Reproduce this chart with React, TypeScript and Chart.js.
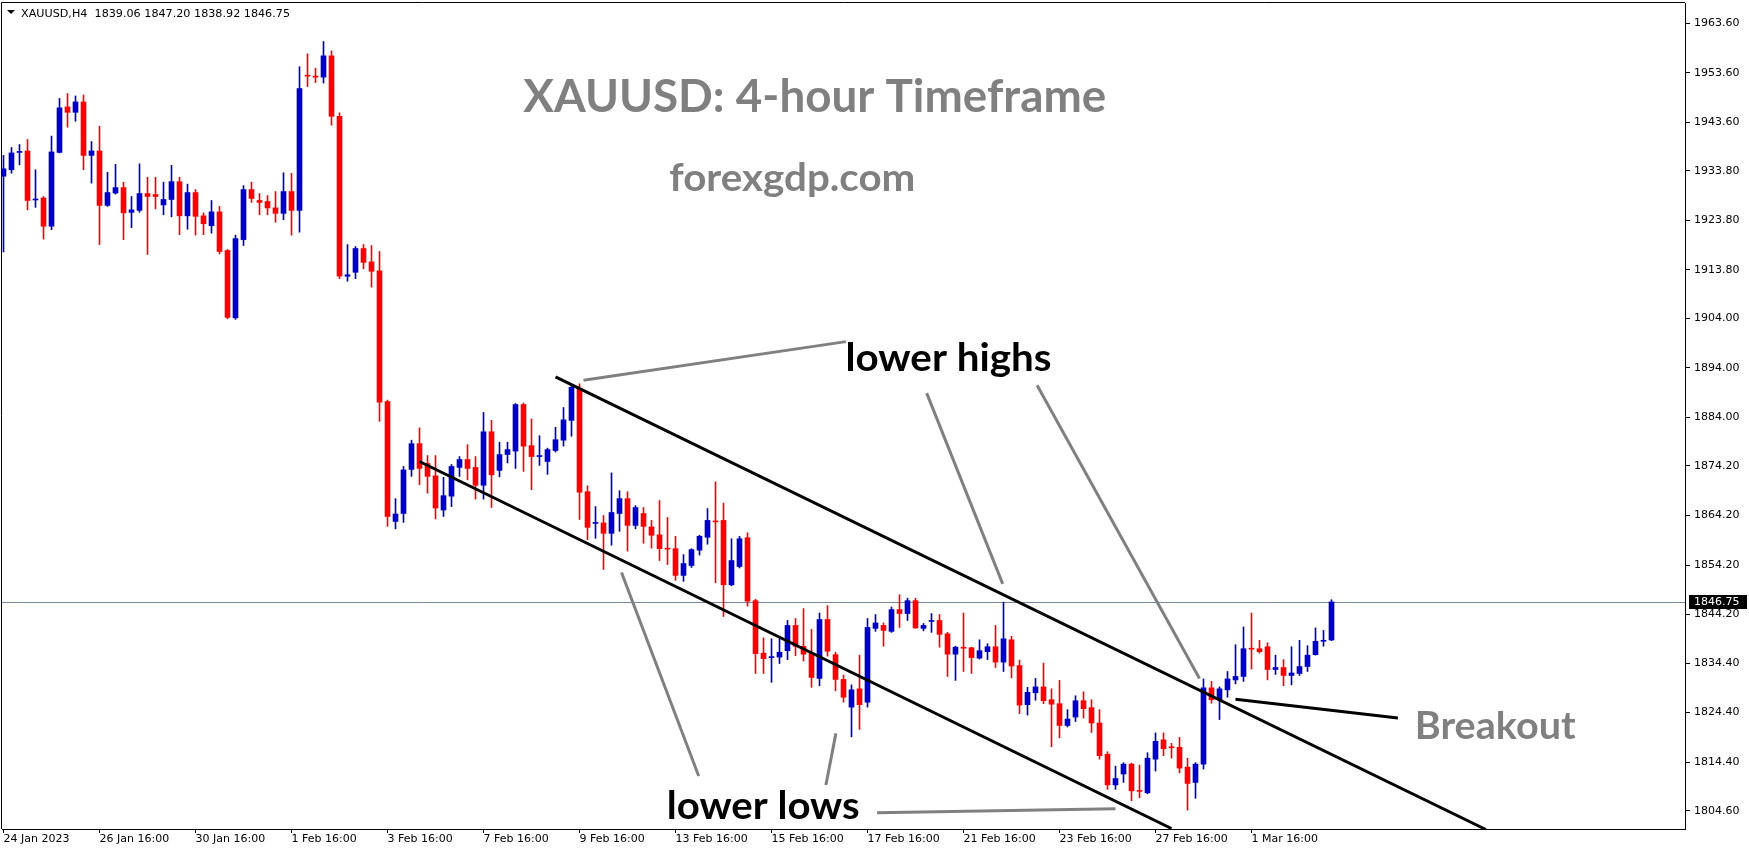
import React, { useEffect, useRef } from "react";
import { Chart, registerables } from "chart.js";

Chart.register(...registerables);

// ---------------- DATA ----------------
const symbol = "XAUUSD";
const timeframe = "H4";

const opens = [
  1932.7, 1934.0, 1937.5, 1937.8, 1927.9, 1928.3, 1922.6, 1937.5, 1946.7, 1945.6,
  1947.7, 1936.9, 1937.8, 1926.8, 1929.3, 1930.4, 1925.4, 1925.8, 1929.2, 1929.0,
  1926.9, 1928.0, 1931.6, 1924.7, 1929.4, 1924.7, 1922.7, 1925.5, 1917.7, 1904.1,
  1919.9, 1930.0, 1927.8, 1927.6, 1926.3, 1925.2, 1929.6, 1925.8, 1953.1, 1952.9,
  1952.7, 1957.0, 1944.8, 1912.5, 1913.3, 1918.1, 1915.4, 1913.6, 1887.2, 1863.0,
  1864.6, 1873.5, 1878.7, 1874.7, 1872.2, 1865.3, 1868.1, 1873.9, 1875.5, 1873.9,
  1870.3, 1881.1, 1873.3, 1876.5, 1877.2, 1886.6, 1878.3, 1876.1, 1875.1, 1877.3,
  1879.4, 1883.4, 1889.9, 1869.0, 1862.6, 1862.7, 1860.6, 1864.6, 1867.6, 1862.2,
  1864.6, 1861.9, 1860.3, 1857.6, 1857.5, 1852.1, 1854.1, 1857.2, 1859.8, 1863.1,
  1863.2, 1850.2, 1853.9, 1859.7, 1847.0, 1836.4, 1835.5, 1835.6, 1836.9, 1842.0,
  1837.8, 1836.3, 1831.3, 1843.2, 1836.1, 1831.1, 1825.5, 1829.2, 1826.5, 1841.4,
  1842.0, 1840.8, 1845.2, 1844.4, 1847.0, 1841.4, 1842.8, 1843.0, 1840.3, 1836.2,
  1837.6, 1837.5, 1835.4, 1836.7, 1837.7, 1834.6, 1839.1, 1833.9, 1826.0, 1828.4,
  1829.6, 1827.0, 1826.2, 1821.8, 1823.5, 1826.8, 1825.4, 1822.3, 1816.0, 1809.8,
  1812.0, 1814.0, 1808.7, 1808.2, 1815.0, 1818.9, 1817.5, 1817.4, 1813.4, 1810.3,
  1814.0, 1829.4, 1827.0, 1829.0, 1831.0, 1831.7, 1837.4, 1837.3, 1837.7, 1833.1,
  1833.5, 1831.9, 1832.3, 1833.7, 1836.1, 1838.8, 1839.06,
];
const highs = [
  1936.9, 1938.5, 1939.1, 1940.1, 1934.0, 1928.6, 1940.8, 1948.4, 1949.4, 1948.9,
  1949.1, 1939.7, 1942.8, 1933.5, 1935.1, 1931.5, 1928.6, 1935.2, 1932.5, 1932.5,
  1931.5, 1934.9, 1932.5, 1931.1, 1930.0, 1925.3, 1927.8, 1926.6, 1917.9, 1920.8,
  1930.8, 1931.5, 1929.2, 1928.8, 1929.6, 1933.4, 1933.3, 1954.8, 1957.4, 1954.5,
  1959.9, 1958.0, 1945.5, 1918.9, 1918.5, 1918.9, 1918.7, 1917.5, 1887.5, 1867.6,
  1874.1, 1879.4, 1881.9, 1876.3, 1876.3, 1871.9, 1874.5, 1876.1, 1878.5, 1876.1,
  1885.0, 1883.4, 1879.0, 1879.0, 1886.8, 1886.9, 1883.7, 1880.3, 1877.8, 1882.0,
  1886.0, 1890.3, 1890.8, 1870.2, 1866.0, 1864.2, 1872.8, 1869.2, 1869.0, 1866.2,
  1865.8, 1863.2, 1867.2, 1863.8, 1860.0, 1856.3, 1857.5, 1860.2, 1865.6, 1871.0,
  1866.7, 1859.5, 1860.0, 1860.7, 1847.3, 1839.5, 1839.3, 1839.3, 1843.0, 1843.4,
  1845.4, 1841.2, 1844.5, 1846.0, 1836.6, 1832.0, 1830.0, 1836.0, 1843.4, 1844.2,
  1842.5, 1845.7, 1848.2, 1847.5, 1847.5, 1842.4, 1844.4, 1844.2, 1840.6, 1837.8,
  1844.5, 1837.6, 1839.1, 1838.3, 1842.0, 1846.7, 1839.8, 1835.0, 1829.5, 1831.3,
  1834.4, 1829.2, 1830.9, 1825.0, 1827.8, 1828.6, 1827.0, 1825.0, 1816.5, 1813.6,
  1814.3, 1814.2, 1813.8, 1816.3, 1820.3, 1820.3, 1818.2, 1819.4, 1815.2, 1814.3,
  1831.2, 1830.7, 1829.6, 1832.7, 1838.1, 1841.7, 1844.5, 1839.0, 1838.5, 1836.0,
  1835.1, 1837.7, 1839.0, 1837.9, 1841.5, 1841.0, 1847.2,
];
const lows = [
  1917.4, 1933.3, 1935.0, 1925.9, 1926.4, 1920.0, 1921.9, 1937.4, 1942.6, 1943.8,
  1934.0, 1931.3, 1918.9, 1926.6, 1929.1, 1919.9, 1922.3, 1925.4, 1916.9, 1926.1,
  1924.9, 1924.5, 1920.9, 1922.0, 1920.8, 1920.9, 1921.2, 1917.0, 1903.9, 1903.8,
  1918.7, 1927.4, 1924.9, 1924.9, 1923.4, 1923.9, 1920.8, 1921.4, 1950.8, 1951.6,
  1951.5, 1943.0, 1912.0, 1911.5, 1912.0, 1914.0, 1910.3, 1883.2, 1862.0, 1861.5,
  1862.8, 1872.1, 1870.4, 1868.7, 1863.5, 1864.0, 1866.0, 1872.1, 1871.4, 1867.5,
  1867.5, 1865.8, 1872.0, 1874.8, 1873.7, 1873.1, 1869.4, 1874.3, 1872.5, 1877.0,
  1878.2, 1880.2, 1863.4, 1859.3, 1859.6, 1853.3, 1858.2, 1861.0, 1857.0, 1861.5,
  1858.6, 1857.6, 1855.1, 1854.3, 1851.1, 1850.9, 1853.7, 1856.2, 1858.4, 1850.6,
  1843.8, 1850.0, 1853.6, 1845.9, 1832.3, 1832.3, 1830.5, 1834.3, 1835.1, 1835.9,
  1834.8, 1829.5, 1829.8, 1835.8, 1828.8, 1826.5, 1819.5, 1821.0, 1825.5, 1840.8,
  1837.8, 1840.6, 1841.6, 1843.0, 1841.4, 1840.9, 1840.6, 1837.6, 1831.7, 1830.9,
  1832.7, 1832.3, 1835.2, 1835.1, 1833.5, 1832.7, 1831.4, 1824.2, 1823.9, 1826.9,
  1826.2, 1817.5, 1819.3, 1821.5, 1822.6, 1823.3, 1820.4, 1815.0, 1808.9, 1808.9,
  1810.3, 1806.6, 1807.2, 1808.0, 1812.6, 1815.7, 1815.2, 1812.2, 1804.7, 1807.1,
  1813.0, 1826.3, 1823.0, 1827.5, 1830.2, 1830.7, 1833.2, 1836.4, 1831.0, 1832.1,
  1829.8, 1830.0, 1831.9, 1832.7, 1836.0, 1837.8, 1838.92,
];
const closes = [
  1934.2, 1937.4, 1937.7, 1927.8, 1928.1, 1922.6, 1937.6, 1946.5, 1945.6, 1947.7,
  1936.9, 1937.8, 1926.8, 1929.4, 1930.4, 1925.3, 1925.9, 1929.2, 1928.6, 1928.6,
  1928.0, 1931.6, 1924.7, 1929.4, 1924.6, 1923.1, 1925.5, 1917.5, 1904.2, 1920.1,
  1930.0, 1928.2, 1927.4, 1926.3, 1925.2, 1929.6, 1925.8, 1950.4, 1952.9, 1952.7,
  1957.0, 1944.8, 1912.5, 1912.8, 1918.1, 1915.3, 1913.5, 1887.1, 1864.0, 1864.5,
  1873.4, 1878.7, 1873.7, 1872.1, 1865.7, 1868.2, 1874.1, 1875.5, 1873.7, 1870.3,
  1881.1, 1872.4, 1876.5, 1877.5, 1886.6, 1878.2, 1876.1, 1876.3, 1877.5, 1879.5,
  1883.5, 1890.1, 1868.9, 1861.8, 1862.8, 1860.6, 1864.8, 1867.6, 1862.2, 1865.8,
  1862.0, 1860.2, 1857.5, 1857.4, 1852.1, 1854.5, 1857.3, 1860.0, 1863.2, 1862.9,
  1850.2, 1855.1, 1859.5, 1846.9, 1836.3, 1835.3, 1835.7, 1836.6, 1842.0, 1837.8,
  1836.2, 1831.5, 1843.2, 1836.8, 1831.1, 1827.5, 1829.0, 1826.0, 1841.6, 1842.5,
  1841.0, 1845.2, 1844.4, 1847.0, 1841.5, 1842.0, 1843.0, 1840.2, 1836.2, 1837.6,
  1837.4, 1835.5, 1836.9, 1837.7, 1834.6, 1839.3, 1833.8, 1825.9, 1828.5, 1829.6,
  1826.8, 1826.1, 1821.8, 1823.1, 1826.8, 1825.2, 1822.3, 1815.7, 1809.8, 1811.1,
  1814.0, 1808.6, 1808.5, 1815.2, 1818.6, 1817.1, 1817.3, 1813.2, 1810.1, 1814.0,
  1829.4, 1827.0, 1829.2, 1831.2, 1831.7, 1837.3, 1837.2, 1836.7, 1833.1, 1833.5,
  1831.9, 1832.4, 1833.7, 1836.0, 1838.8, 1839.0, 1846.75,
];

const xTickBars = [0, 12, 24, 36, 48, 60, 72, 84, 96, 108, 120, 132, 144, 156];
const xTickLabels = [
  "24 Jan 2023", "26 Jan 16:00", "30 Jan 16:00", "1 Feb 16:00", "3 Feb 16:00",
  "7 Feb 16:00", "9 Feb 16:00", "13 Feb 16:00", "15 Feb 16:00", "17 Feb 16:00",
  "21 Feb 16:00", "23 Feb 16:00", "27 Feb 16:00", "1 Mar 16:00",
];
const yTickLabels = [
  "1963.60", "1953.60", "1943.60", "1933.80", "1923.80", "1913.80", "1904.00",
  "1894.00", "1884.00", "1874.20", "1864.20", "1854.20", "1844.20", "1834.40",
  "1824.40", "1814.40", "1804.60",
];

// annotation lines in data coordinates: [bar, price]
const channelUpper = [[69.0, 1892.2], [185.3, 1800.8]];
const channelLower = [[52.0, 1875.1], [146.0, 1801.0]];
const highPointer1 = [[72.5, 1891.5], [105.3, 1899.3]];
const highPointer2 = [[115.4, 1888.9], [124.9, 1850.4]];
const highPointer3 = [[129.2, 1890.5], [149.5, 1831.3]];
const lowPointer1 = [[77.25, 1852.7], [86.9, 1811.6]];
const lowPointer2 = [[104.05, 1820.2], [102.8, 1809.8]];
const lowPointer3 = [[109.2, 1804.2], [139.0, 1805.0]];
const breakoutPointer = [[154.0, 1827.1], [174.3, 1823.3]];

// text notes anchored in data coordinates
const notes = [
  { text: "XAUUSD: 4-hour Timeframe", bar: 101.4, price: 1945.66 },
  { text: "forexgdp.com", bar: 98.6, price: 1929.71 },
  { text: "lower highs", bar: 105.25, price: 1893.37 },
  { text: "lower lows", bar: 82.9, price: 1802.92 },
  { text: "Breakout", bar: 176.4, price: 1819.07 },
];

// ---------------- STYLE ----------------
const BULL = "#0000cd";
const BEAR = "#ff0000";
const GRAY = "#808080";
const noteStyles = [
  { size: 45, width: 583, color: GRAY, align: "center" },
  { size: 39, width: 246, color: GRAY, align: "center" },
  { size: 39, width: 206, color: "#000000", align: "left" },
  { size: 39, width: 193, color: "#000000", align: "left" },
  { size: 38, width: 161, color: GRAY, align: "left" },
];
const AXIS_FONT = "DejaVu Sans";

function fitText(ctx: CanvasRenderingContext2D, text: string, x: number, y: number, width: number, font: string, color: string, align: string) {
  ctx.save();
  ctx.font = font;
  const w = ctx.measureText(text).width;
  const sx = width / w;
  const left = align === "center" ? x - width / 2 : x;
  ctx.translate(left, y);
  ctx.scale(sx, 1);
  ctx.fillStyle = color;
  ctx.textAlign = "left";
  ctx.textBaseline = "alphabetic";
  ctx.fillText(text, 0, 0);
  ctx.restore();
}

const overlay = {
  id: "overlay",
  beforeDatasetsDraw(chart: any) {
    const { ctx, chartArea } = chart;
    const ys = chart.scales.y;
    const last = closes[closes.length - 1];
    const py = Math.round(ys.getPixelForValue(last)) + 0.5;
    ctx.save();
    ctx.strokeStyle = "#778899";
    ctx.lineWidth = 1;
    ctx.beginPath();
    ctx.moveTo(chartArea.left, py);
    ctx.lineTo(chartArea.right, py);
    ctx.stroke();
    ctx.restore();
  },
  afterDraw(chart: any) {
    const { ctx, chartArea } = chart;
    const xs = chart.scales.x;
    const ys = chart.scales.y;
    ctx.save();
    // frame (left + top)
    ctx.strokeStyle = "#000";
    ctx.lineWidth = 1;
    ctx.beginPath();
    ctx.moveTo(chartArea.left - 0.5, chartArea.bottom);
    ctx.lineTo(chartArea.left - 0.5, chartArea.top - 0.5);
    ctx.lineTo(chartArea.right, chartArea.top - 0.5);
    ctx.stroke();

    // header
    const n = closes.length - 1;
    ctx.fillStyle = "#000";
    ctx.beginPath();
    ctx.moveTo(chartArea.left + 5, chartArea.top + 7);
    ctx.lineTo(chartArea.left + 13, chartArea.top + 7);
    ctx.lineTo(chartArea.left + 9, chartArea.top + 11);
    ctx.closePath();
    ctx.fill();
    const header = `${symbol},${timeframe}  ${opens[n].toFixed(2)} ${highs[n].toFixed(2)} ${lows[n].toFixed(2)} ${closes[n].toFixed(2)}`;
    fitText(ctx, header, chartArea.left + 19, chartArea.top + 14, 269, `11px "${AXIS_FONT}"`, "#000", "left");

    // notes
    ctx.save();
    ctx.beginPath();
    ctx.rect(chartArea.left, chartArea.top, chartArea.right - chartArea.left, chartArea.bottom - chartArea.top);
    ctx.clip();
    notes.forEach((nt, i) => {
      const st = noteStyles[i];
      fitText(ctx, nt.text, xs.getPixelForValue(nt.bar), ys.getPixelForValue(nt.price), st.width, `bold ${st.size}px Lato`, st.color, st.align);
    });
    ctx.restore();

    // current price box
    const last = closes[n];
    const py = Math.round(ys.getPixelForValue(last));
    ctx.fillStyle = "#000";
    ctx.fillRect(chartArea.right + 4, py - 7, 58, 14);
    ctx.fillStyle = "#fff";
    ctx.font = `11px "${AXIS_FONT}"`;
    ctx.textAlign = "left";
    ctx.textBaseline = "middle";
    ctx.fillText(last.toFixed(2), chartArea.right + 9, py + 0.5);
    ctx.restore();
  },
};

function lineDataset(pts: number[][], color: string) {
  return {
    type: "line" as const,
    data: pts.map(([x, y]) => ({ x, y })),
    borderColor: color,
    backgroundColor: color,
    borderWidth: 3,
    pointRadius: 0,
    fill: false,
    tension: 0,
    order: 0,
    borderCapStyle: "butt" as const,
  };
}

export default function App() {
  const ref = useRef<HTMLCanvasElement>(null);
  useEffect(() => {
    const canvas = ref.current!;
    const colors = opens.map((o, i) => (closes[i] >= o ? BULL : BEAR));
    const chart = new Chart(canvas, {
      type: "bar",
      data: {
        datasets: [
          {
            type: "bar",
            label: "body",
            data: opens.map((o, i) => ({ x: i, y: [o, closes[i]] })) as any,
            backgroundColor: colors,
            borderWidth: 0,
            barThickness: 5,
            minBarLength: 1,
            grouped: false,
            order: 1,
          },
          {
            type: "bar",
            label: "wick",
            data: lows.map((l, i) => ({ x: i, y: [l, highs[i]] })) as any,
            backgroundColor: colors,
            borderWidth: 0,
            barThickness: 1,
            grouped: false,
            order: 2,
          },
          lineDataset(channelUpper, "#000000"),
          lineDataset(channelLower, "#000000"),
          lineDataset(breakoutPointer, "#000000"),
          lineDataset(highPointer1, GRAY),
          lineDataset(highPointer2, GRAY),
          lineDataset(highPointer3, GRAY),
          lineDataset(lowPointer1, GRAY),
          lineDataset(lowPointer2, GRAY),
          lineDataset(lowPointer3, GRAY),
        ] as any,
      },
      options: {
        animation: false,
        responsive: false,
        devicePixelRatio: 1,
        events: [],
        layout: { padding: { left: 2, top: 3, right: 0, bottom: 0 } },
        plugins: { legend: { display: false }, tooltip: { enabled: false } },
        scales: {
          x: {
            type: "linear",
            min: -0.1875,
            max: 210.1875,
            offset: false,
            afterBuildTicks: (s: any) => {
              s.ticks = xTickBars.map((v) => ({ value: v }));
            },
            afterFit: (s: any) => {
              s.height = 21;
              s.paddingLeft = 0;
              s.paddingRight = 0;
            },
            ticks: {
              autoSkip: false,
              maxRotation: 0,
              minRotation: 0,
              align: "start",
              padding: 0,
              color: "#000",
              font: { family: AXIS_FONT, size: 11 },
              callback: (_v: any, idx: number) => xTickLabels[idx],
            },
            grid: { drawOnChartArea: false, drawTicks: true, tickLength: 4, color: "#000", offset: false },
            border: { display: true, color: "#000", width: 1 },
          },
          y: {
            type: "linear",
            position: "right",
            min: 1800.9,
            max: 1967.67,
            beginAtZero: false,
            afterBuildTicks: (s: any) => {
              s.ticks = yTickLabels.map((t) => ({ value: parseFloat(t) }));
            },
            afterFit: (s: any) => {
              s.width = 64;
              s.paddingTop = 0;
              s.paddingBottom = 0;
            },
            ticks: {
              autoSkip: false,
              padding: 4,
              color: "#000",
              font: { family: AXIS_FONT, size: 11 },
              callback: (_v: any, idx: number) => yTickLabels[idx],
            },
            grid: { drawOnChartArea: false, drawTicks: true, tickLength: 5, color: "#000" },
            border: { display: true, color: "#000", width: 1 },
          },
        },
      } as any,
      plugins: [overlay as any],
    });
    return () => chart.destroy();
  }, []);
  return (
    <canvas
      ref={ref}
      width={1749}
      height={850}
      style={{ position: "absolute", left: 0, top: 0, width: 1749, height: 850, background: "#fff" }}
    />
  );
}
